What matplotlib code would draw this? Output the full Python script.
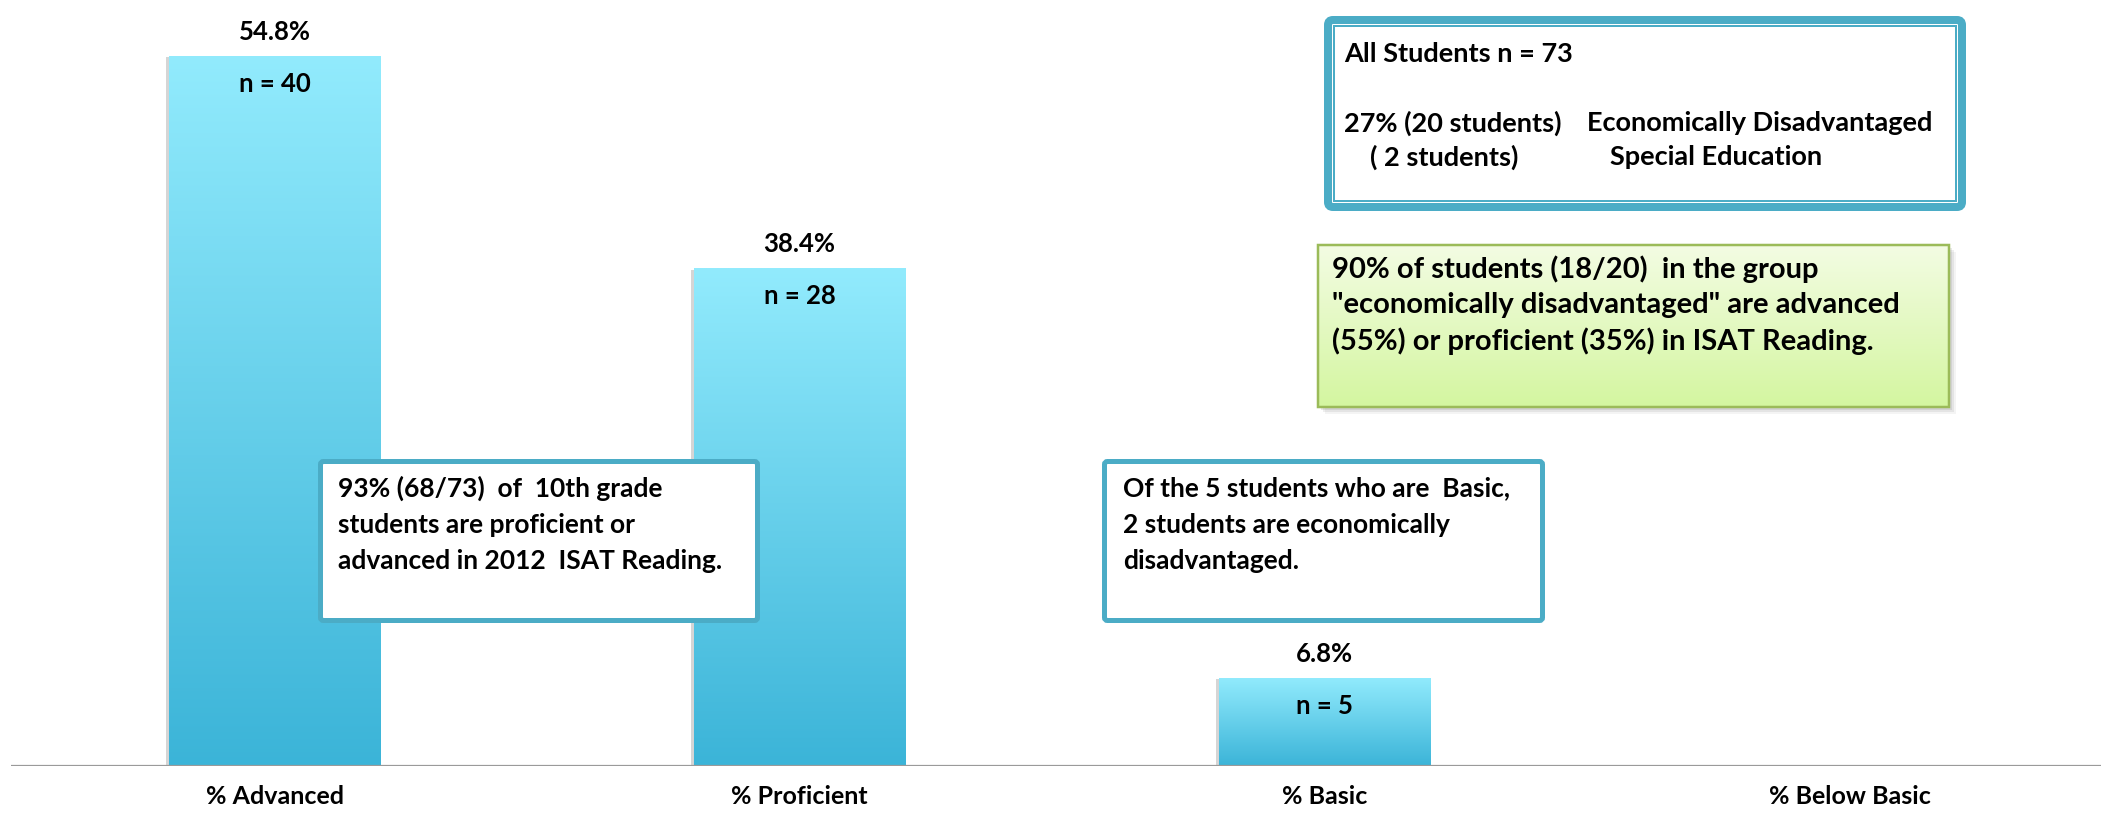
import numpy as np
import matplotlib
matplotlib.use("Agg")
import matplotlib.pyplot as plt
from matplotlib.patches import Rectangle, FancyBboxPatch
from matplotlib import patheffects as pe
from matplotlib.colors import LinearSegmentedColormap

# --- data ---
categories = ['% Advanced', '% Proficient', '% Basic', '% Below Basic']
percents = [54.8, 38.4, 6.8, 0.0]
counts = [40, 28, 5, 0]

all_students_title = 'All Students n = 73'
subgroups = [('27% (20 students)', 'Economically Disadvantaged'),
             ('( 2 students)', 'Special Education')]
econ_note = ['90% of students (18/20)  in the group',
             '"economically disadvantaged" are advanced',
             '(55%) or proficient (35%) in ISAT Reading.']
overall_note = ['93% (68/73)  of  10th grade',
                'students are proficient or',
                'advanced in 2012  ISAT Reading.']
basic_note = ['Of the 5 students who are  Basic,',
              '2 students are economically',
              'disadvantaged.']

plt.rcParams['font.family'] = ['Lato', 'DejaVu Sans']
plt.rcParams['font.weight'] = 'bold'

W, H, DPI = 2101, 822, 100
fig = plt.figure(figsize=(W / DPI, H / DPI), dpi=DPI, facecolor='white')
PT = 72 / DPI  # points per pixel

TEAL = '#4BACC6'
bar_cmap = LinearSegmentedColormap.from_list('bar', ['#3BB4D8', '#92EBFD'])
green_cmap = LinearSegmentedColormap.from_list('grn', ['#D4F6A0', '#F3FCE3'])

# main chart axes
ax = fig.add_axes([11 / W, 56 / H, 2090 / W, 766 / H])
ax.set_xlim(-0.502, 3.479)
ax.set_ylim(0, 59.12)
x = np.arange(len(categories))
bars = ax.bar(x, percents, width=0.402, color='#6FD0EA', zorder=2,
              path_effects=[pe.SimplePatchShadow(offset=(-2, -1), shadow_rgbFace='#888888', alpha=0.35),
                            pe.Normal()])
grad = np.linspace(0, 1, 256).reshape(-1, 1)
for b in bars:
    if b.get_height() <= 0:
        continue
    x0, y0 = b.get_x(), b.get_y()
    im = ax.imshow(grad, cmap=bar_cmap, aspect='auto', origin='lower',
                   extent=[x0, x0 + b.get_width(), y0, y0 + b.get_height()], zorder=3)
    im.set_clip_path(b)

for i, (p, n) in enumerate(zip(percents, counts)):
    if p <= 0:
        continue
    ax.annotate(f'{p}%', (i, p), xytext=(0, 24 * PT), textcoords='offset points',
                ha='center', va='center', fontsize=18.5, fontweight='bold', zorder=5)
    ax.annotate(f'n = {n}', (i, p), xytext=(0, -28 * PT), textcoords='offset points',
                ha='center', va='center', fontsize=18.5, fontweight='bold', zorder=5)

ax.axhline(0, color='#9A9A9A', lw=1.6, zorder=4)
ax.set_xticks(x)
ax.set_xticklabels(categories, fontsize=18, fontweight='bold')
ax.tick_params(axis='x', length=0, pad=14)
ax.tick_params(axis='y', left=False, labelleft=False)
for s in ax.spines.values():
    s.set_visible(False)
ax.patch.set_visible(False)

# overlay in pixel coordinates for the callout boxes
ov = fig.add_axes([0, 0, 1, 1], zorder=10)
ov.set_xlim(0, W)
ov.set_ylim(H, 0)
ov.axis('off')
ov.patch.set_visible(False)


def box(x0, y0, x1, y1, lw_px, ec, fc='white', rad=3):
    p = FancyBboxPatch((x0 + lw_px / 2, y0 + lw_px / 2), x1 - x0 - lw_px, y1 - y0 - lw_px,
                       boxstyle=f'round,pad=0,rounding_size={rad}', lw=lw_px * PT,
                       ec=ec, fc=fc, zorder=2)
    ov.add_patch(p)
    return p


def lines(x0, ys, texts, size=18):
    for yy, t in zip(ys, texts):
        ov.text(x0, yy, t, ha='left', va='center', fontsize=size, fontweight='bold', zorder=5)


# all students box with double border
box(1324, 16, 1966, 211, 8, TEAL, rad=5)
ov.add_patch(Rectangle((1334, 26), 1956 - 1334, 201 - 26, fill=False, ec=TEAL, lw=2 * PT, zorder=3))
ov.text(1344, 54, all_students_title, ha='left', va='center', fontsize=19.5, fontweight='bold')
for (left, right), yy, xl, xr in zip(subgroups, [123, 157], [1344, 1370], [1587, 1610]):
    ov.text(xl, yy, left, ha='left', va='center', fontsize=19.5, fontweight='bold')
    ov.text(xr, yy, right, ha='left', va='center', fontsize=19.5, fontweight='bold')

# green note with soft shadow
for k, a in zip([7, 5, 3], [0.08, 0.12, 0.16]):
    ov.add_patch(Rectangle((1318 + k, 245 + k), 1949 - 1318, 407 - 245, fc='#777777', ec='none',
                           alpha=a, zorder=1))
gbox = Rectangle((1318, 245), 1949 - 1318, 407 - 245, fc='none', ec='#9BBB59', lw=2.5 * PT, zorder=3)
ov.add_patch(gbox)
gim = ov.imshow(grad[::-1], cmap=green_cmap, aspect='auto', origin='upper',
                extent=[1318, 1949, 407, 245], zorder=2)
gim.set_clip_path(gbox)
lines(1332, [269, 305, 341], econ_note, size=21)

# overall and basic callouts
box(318, 459, 760, 623, 5, TEAL)
lines(338, [488, 525, 561], overall_note, size=19)
box(1102, 459, 1545, 623, 5, TEAL)
lines(1123, [488, 525, 561], basic_note, size=19)

fig.savefig('out.png', dpi=DPI, facecolor='white')
